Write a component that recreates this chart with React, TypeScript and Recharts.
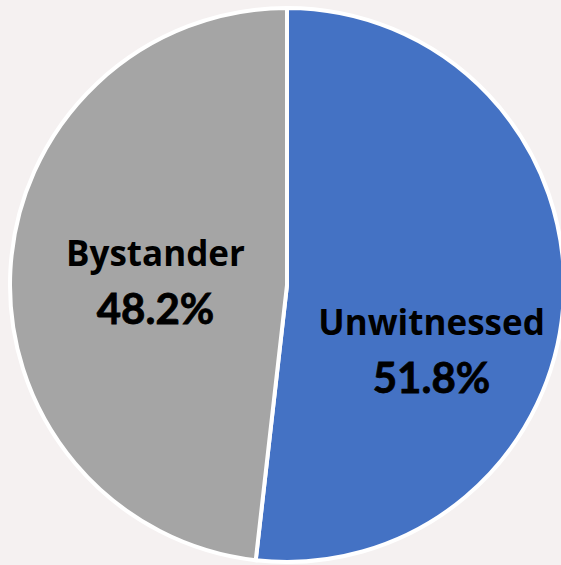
import { PieChart, Pie, Cell } from "recharts";

const categories = ["Unwitnessed", "Bystander"];
const shares = [51.8, 48.2];
const sliceColors = ["#4472C4", "#A5A5A5"];

const data = categories.map((name, i) => ({ name, value: shares[i] }));

const RAD = Math.PI / 180;

// label placement per slice: radial distance (fraction of radius) and vertical nudge
const labelPlace = [
  { r: 0.5225, dy: 54 },
  { r: 0.4755, dy: 0 },
];

function renderLabel(props: any) {
  const { cx, cy, midAngle, outerRadius, index, name, value } = props;
  const p = labelPlace[index];
  const x = cx + outerRadius * p.r * Math.cos(-midAngle * RAD);
  const y = cy + outerRadius * p.r * Math.sin(-midAngle * RAD) + p.dy;
  return (
    <g>
      <text x={x} y={y - 12} textAnchor="middle" fill="#000" fontFamily="'Open Sans'" fontWeight={700} fontSize={35}>
        {name}
      </text>
      <text
        x={x}
        y={y + 46}
        textAnchor="middle"
        fill="#000"
        stroke="#000"
        strokeWidth={0.8}
        fontFamily="Lato"
        fontWeight={700}
        fontSize={42}
      >
        {value.toFixed(1)}%
      </text>
    </g>
  );
}

export default function App() {
  return (
    <div style={{ position: "fixed", left: 0, top: 0, width: 561, height: 565, overflow: "hidden", background: "#F5F1F1" }}>
      <PieChart width={561} height={565} margin={{ top: 0, right: 0, bottom: 0, left: 0 }}>
        <Pie
          data={data}
          dataKey="value"
          nameKey="name"
          cx={287}
          cy={285}
          outerRadius={277}
          startAngle={90}
          endAngle={-270}
          stroke="#FFFFFF"
          strokeWidth={4}
          label={renderLabel}
          labelLine={false}
          isAnimationActive={false}
        >
          {data.map((d, i) => (
            <Cell key={d.name} fill={sliceColors[i]} />
          ))}
        </Pie>
      </PieChart>
    </div>
  );
}
